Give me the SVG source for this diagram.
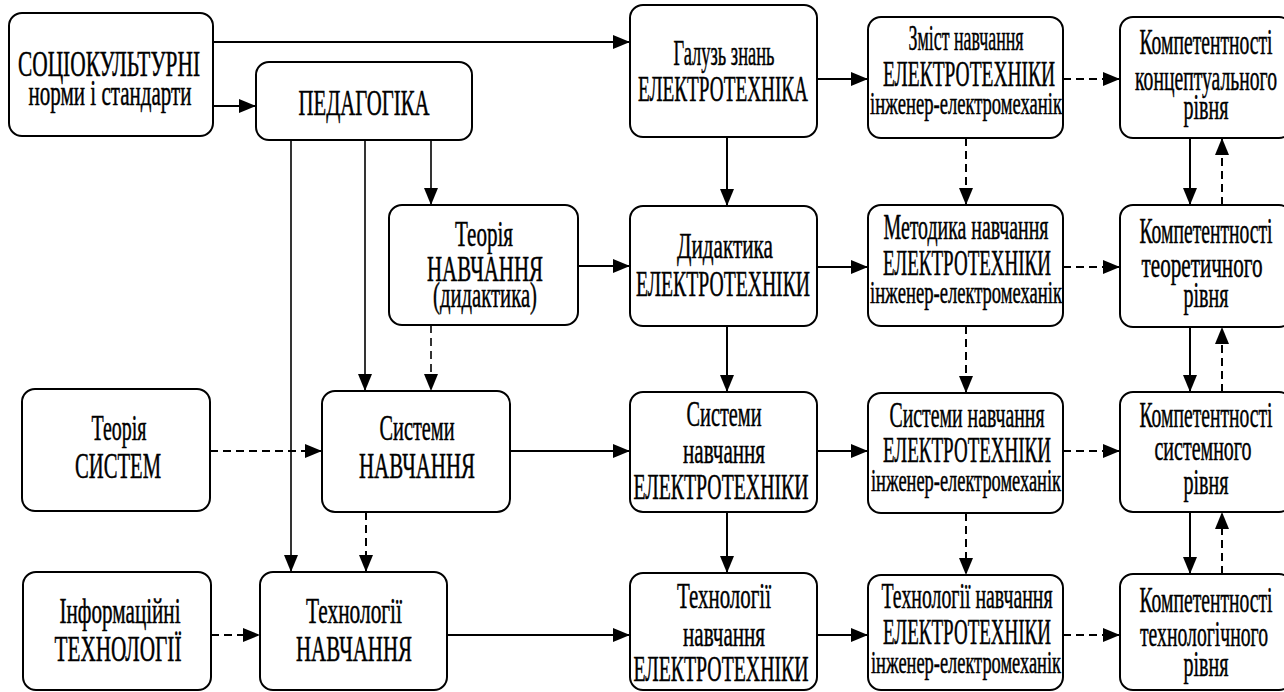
<svg xmlns="http://www.w3.org/2000/svg" width="1284" height="692" viewBox="0 0 1284 692">
<style>
.box{fill:#fff;stroke:#000;stroke-width:2}
text{font-family:'Liberation Serif','DejaVu Serif',serif;font-size:36px;text-anchor:middle;fill:#000;stroke:#000;stroke-width:0.5}
.s{font-size:31px}
.c{fill:none;stroke:#000;stroke-width:2}
.thin{stroke-width:1.6}
.d{stroke-dasharray:8,5}
</style>
<defs>
<marker id="ah" markerUnits="userSpaceOnUse" markerWidth="18" markerHeight="16" refX="17" refY="7" orient="auto">
<path d="M0,0 L17,7 L0,14 z" fill="#000"/>
</marker>
</defs>
<rect width="1284" height="692" fill="#fff"/>

<g id="connectors">
<path class="c" d="M213,42 H630" marker-end="url(#ah)"/>
<path class="c" d="M213,106 H256" marker-end="url(#ah)"/>
<path class="c thin" d="M291,140 V572" marker-end="url(#ah)"/>
<path class="c thin" d="M365,140 V391" marker-end="url(#ah)"/>
<path class="c thin" d="M431,140 V205" marker-end="url(#ah)"/>
<path class="c thin d" d="M431,325 V391" marker-end="url(#ah)"/>
<path class="c" d="M578,266 H630" marker-end="url(#ah)"/>
<path class="c" d="M727,137 V206" marker-end="url(#ah)"/>
<path class="c" d="M817,79 H868" marker-end="url(#ah)"/>
<path class="c d" d="M1063,79 H1120" marker-end="url(#ah)"/>
<path class="c d" d="M966,138 V205" marker-end="url(#ah)"/>
<path class="c" d="M1190,138 V205" marker-end="url(#ah)"/>
<path class="c d" d="M1222,205 V138" marker-end="url(#ah)"/>
<path class="c" d="M817,267 H868" marker-end="url(#ah)"/>
<path class="c d" d="M1063,267 H1120" marker-end="url(#ah)"/>
<path class="c" d="M727,326 V392" marker-end="url(#ah)"/>
<path class="c d" d="M966,326 V393" marker-end="url(#ah)"/>
<path class="c" d="M1190,327 V392" marker-end="url(#ah)"/>
<path class="c d" d="M1222,392 V327" marker-end="url(#ah)"/>
<path class="c d" d="M210,451 H322" marker-end="url(#ah)"/>
<path class="c" d="M510,451 H630" marker-end="url(#ah)"/>
<path class="c" d="M817,451 H868" marker-end="url(#ah)"/>
<path class="c d" d="M1063,451 H1120" marker-end="url(#ah)"/>
<path class="c d" d="M366,512 V572" marker-end="url(#ah)"/>
<path class="c" d="M727,512 V573" marker-end="url(#ah)"/>
<path class="c d" d="M966,513 V575" marker-end="url(#ah)"/>
<path class="c" d="M1190,512 V574" marker-end="url(#ah)"/>
<path class="c d" d="M1222,574 V512" marker-end="url(#ah)"/>
<path class="c d" d="M211,635 H260" marker-end="url(#ah)"/>
<path class="c" d="M447,635 H630" marker-end="url(#ah)"/>
<path class="c" d="M817,635 H868" marker-end="url(#ah)"/>
<path class="c d" d="M1063,635 H1120" marker-end="url(#ah)"/>
</g>

<g id="n-soc">
<rect class="box" x="9" y="13" width="204" height="123" rx="13"/>
<text x="109" y="76" textLength="182" lengthAdjust="spacingAndGlyphs">СОЦІОКУЛЬТУРНІ</text>
<text x="110" y="105" textLength="163" lengthAdjust="spacingAndGlyphs">норми і стандарти</text>
</g>
<g id="n-ped">
<rect class="box" x="256" y="62" width="216" height="78" rx="13"/>
<text x="364" y="115" textLength="131" lengthAdjust="spacingAndGlyphs">ПЕДАГОГІКА</text>
</g>
<g id="n-galuz">
<rect class="box" x="630" y="5" width="187" height="132" rx="13"/>
<text x="724" y="65" textLength="101" lengthAdjust="spacingAndGlyphs">Галузь знань</text>
<text x="723" y="101" textLength="170" lengthAdjust="spacingAndGlyphs">ЕЛЕКТРОТЕХНІКА</text>
</g>
<g id="n-zmist">
<rect class="box" x="868" y="17" width="195" height="121" rx="13"/>
<text x="966" y="50" textLength="115" lengthAdjust="spacingAndGlyphs">Зміст навчання</text>
<text x="969" y="86" textLength="172" lengthAdjust="spacingAndGlyphs">ЕЛЕКТРОТЕХНІКИ</text>
<text class="s" x="966" y="114" textLength="192" lengthAdjust="spacingAndGlyphs">інженер-електромеханік</text>
</g>
<g id="n-komp1">
<rect class="box" x="1120" y="17" width="172" height="121" rx="13"/>
<text x="1206" y="54" textLength="133" lengthAdjust="spacingAndGlyphs">Компетентності</text>
<text x="1206" y="90" textLength="142" lengthAdjust="spacingAndGlyphs">концептуального</text>
<text x="1206" y="119" textLength="45" lengthAdjust="spacingAndGlyphs">рівня</text>
</g>

<g id="n-teoria-navch">
<rect class="box" x="389" y="205" width="189" height="120" rx="13"/>
<text x="484" y="246" textLength="58" lengthAdjust="spacingAndGlyphs">Теорія</text>
<text x="485" y="281" textLength="116" lengthAdjust="spacingAndGlyphs">НАВЧАННЯ</text>
<text x="485" y="307" textLength="104" lengthAdjust="spacingAndGlyphs">(дидактика)</text>
</g>
<g id="n-dydaktyka">
<rect class="box" x="630" y="206" width="187" height="120" rx="13"/>
<text x="725" y="258" textLength="96" lengthAdjust="spacingAndGlyphs">Дидактика</text>
<text x="723" y="296" textLength="174" lengthAdjust="spacingAndGlyphs">ЕЛЕКТРОТЕХНІКИ</text>
</g>
<g id="n-metodyka">
<rect class="box" x="868" y="205" width="195" height="121" rx="13"/>
<text x="966" y="239" textLength="165" lengthAdjust="spacingAndGlyphs">Методика навчання</text>
<text x="967" y="275" textLength="168" lengthAdjust="spacingAndGlyphs">ЕЛЕКТРОТЕХНІКИ</text>
<text class="s" x="966" y="303" textLength="192" lengthAdjust="spacingAndGlyphs">інженер-електромеханік</text>
</g>
<g id="n-komp2">
<rect class="box" x="1120" y="205" width="172" height="122" rx="13"/>
<text x="1206" y="243" textLength="133" lengthAdjust="spacingAndGlyphs">Компетентності</text>
<text x="1202" y="277" textLength="121" lengthAdjust="spacingAndGlyphs">теоретичного</text>
<text x="1206" y="307" textLength="45" lengthAdjust="spacingAndGlyphs">рівня</text>
</g>

<g id="n-teoria-system">
<rect class="box" x="22" y="389" width="188" height="122" rx="13"/>
<text x="119" y="440" textLength="55" lengthAdjust="spacingAndGlyphs">Теорія</text>
<text x="118" y="478" textLength="86" lengthAdjust="spacingAndGlyphs">СИСТЕМ</text>
</g>
<g id="n-systemy-navch">
<rect class="box" x="322" y="391" width="188" height="121" rx="13"/>
<text x="417" y="440" textLength="75" lengthAdjust="spacingAndGlyphs">Системи</text>
<text x="417" y="478" textLength="116" lengthAdjust="spacingAndGlyphs">НАВЧАННЯ</text>
</g>
<g id="n-systemy-el">
<rect class="box" x="630" y="392" width="187" height="120" rx="13"/>
<text x="724" y="426" textLength="75" lengthAdjust="spacingAndGlyphs">Системи</text>
<text x="724" y="463" textLength="82" lengthAdjust="spacingAndGlyphs">навчання</text>
<text x="721" y="499" textLength="175" lengthAdjust="spacingAndGlyphs">ЕЛЕКТРОТЕХНІКИ</text>
</g>
<g id="n-systemy-navch-el">
<rect class="box" x="868" y="393" width="195" height="120" rx="13"/>
<text x="967" y="427" textLength="155" lengthAdjust="spacingAndGlyphs">Системи навчання</text>
<text x="967" y="462" textLength="168" lengthAdjust="spacingAndGlyphs">ЕЛЕКТРОТЕХНІКИ</text>
<text class="s" x="966" y="491" textLength="190" lengthAdjust="spacingAndGlyphs">інженер-електромеханік</text>
</g>
<g id="n-komp3">
<rect class="box" x="1120" y="392" width="172" height="120" rx="13"/>
<text x="1206" y="427" textLength="133" lengthAdjust="spacingAndGlyphs">Компетентності</text>
<text x="1203" y="460" textLength="97" lengthAdjust="spacingAndGlyphs">системного</text>
<text x="1206" y="494" textLength="45" lengthAdjust="spacingAndGlyphs">рівня</text>
</g>

<g id="n-inform">
<rect class="box" x="23" y="572" width="188" height="118" rx="13"/>
<text x="120" y="623" textLength="121" lengthAdjust="spacingAndGlyphs">Інформаційні</text>
<text x="118" y="661" textLength="127" lengthAdjust="spacingAndGlyphs">ТЕХНОЛОГІЇ</text>
</g>
<g id="n-tekhn-navch">
<rect class="box" x="260" y="572" width="187" height="118" rx="13"/>
<text x="354" y="623" textLength="96" lengthAdjust="spacingAndGlyphs">Технології</text>
<text x="354" y="661" textLength="116" lengthAdjust="spacingAndGlyphs">НАВЧАННЯ</text>
</g>
<g id="n-tekhn-el">
<rect class="box" x="630" y="573" width="187" height="117" rx="13"/>
<text x="724" y="608" textLength="94" lengthAdjust="spacingAndGlyphs">Технології</text>
<text x="724" y="646" textLength="82" lengthAdjust="spacingAndGlyphs">навчання</text>
<text x="721" y="681" textLength="175" lengthAdjust="spacingAndGlyphs">ЕЛЕКТРОТЕХНІКИ</text>
</g>
<g id="n-tekhn-navch-el">
<rect class="box" x="868" y="575" width="195" height="115" rx="13"/>
<text x="967" y="608" textLength="171" lengthAdjust="spacingAndGlyphs">Технології навчання</text>
<text x="967" y="644" textLength="168" lengthAdjust="spacingAndGlyphs">ЕЛЕКТРОТЕХНІКИ</text>
<text class="s" x="966" y="673" textLength="190" lengthAdjust="spacingAndGlyphs">інженер-електромеханік</text>
</g>
<g id="n-komp4">
<rect class="box" x="1120" y="574" width="172" height="116" rx="13"/>
<text x="1206" y="612" textLength="133" lengthAdjust="spacingAndGlyphs">Компетентності</text>
<text x="1204" y="646" textLength="128" lengthAdjust="spacingAndGlyphs">технологічного</text>
<text x="1206" y="676" textLength="45" lengthAdjust="spacingAndGlyphs">рівня</text>
</g>
</svg>
